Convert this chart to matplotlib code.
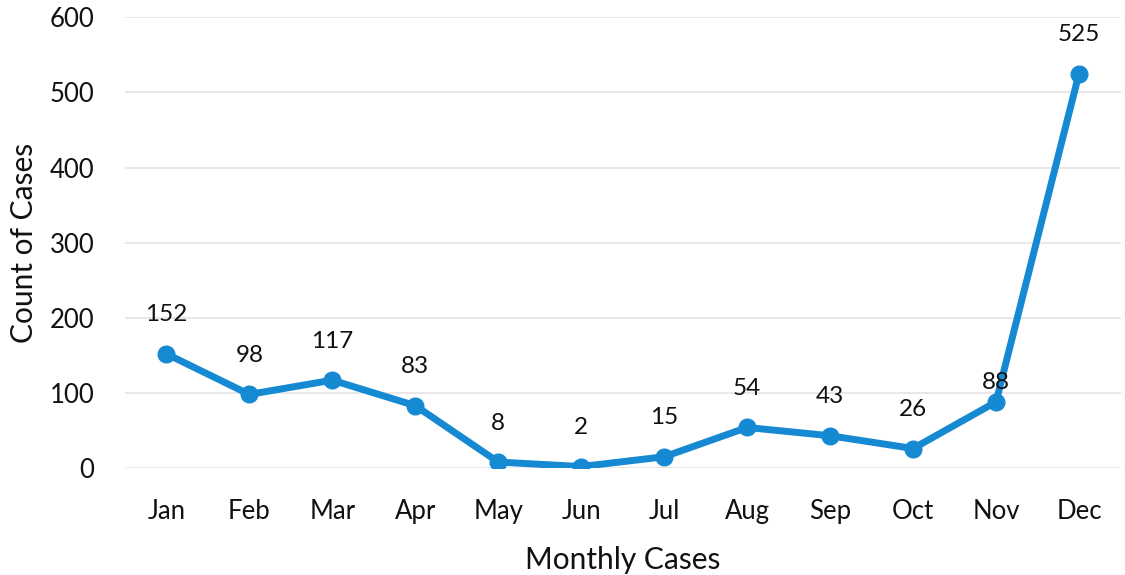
import matplotlib.pyplot as plt

# data
months = ["Jan", "Feb", "Mar", "Apr", "May", "Jun",
          "Jul", "Aug", "Sep", "Oct", "Nov", "Dec"]
cases = [152, 98, 117, 83, 8, 2, 15, 54, 43, 26, 88, 525]

plt.rcParams['font.family'] = ['Lato', 'DejaVu Sans']

line_color = "#1689d3"
text_color = "#111111"

fig = plt.figure(figsize=(11.25, 5.75), dpi=100)
ax = fig.add_axes([0.111, 0.186, 0.885, 0.784])

x = list(range(len(months)))
ax.plot(x, cases, color=line_color, linewidth=5, marker="o",
        markersize=12, solid_joinstyle="round", zorder=3)

# data labels above each point (Nov label sits lower, on the line)
for i, v in enumerate(cases):
    dy = 14 if months[i] == "Nov" else 28
    ax.annotate(str(v), (i, v), xytext=(0, dy), textcoords="offset points",
                ha="center", va="center", fontsize=17.5, color=text_color)

ax.set_xlim(-0.5, len(months) - 0.5)
ax.set_ylim(0, 600)
ax.set_yticks(range(0, 601, 100))
ax.set_xticks(x)
ax.set_xticklabels(months)

ax.grid(axis="y", color="#e4e4e4", linewidth=1.2)
ax.set_axisbelow(True)
for s in ax.spines.values():
    s.set_visible(False)
ax.tick_params(length=0, labelsize=18.5, colors=text_color)
ax.tick_params(axis="y", pad=22)
ax.tick_params(axis="x", pad=22)

ax.set_ylabel("Count of Cases", fontsize=21.5, color=text_color, labelpad=8)
ax.set_xlabel("Monthly Cases", fontsize=21.5, color=text_color, labelpad=16)

fig.savefig("out.png", dpi=100)
